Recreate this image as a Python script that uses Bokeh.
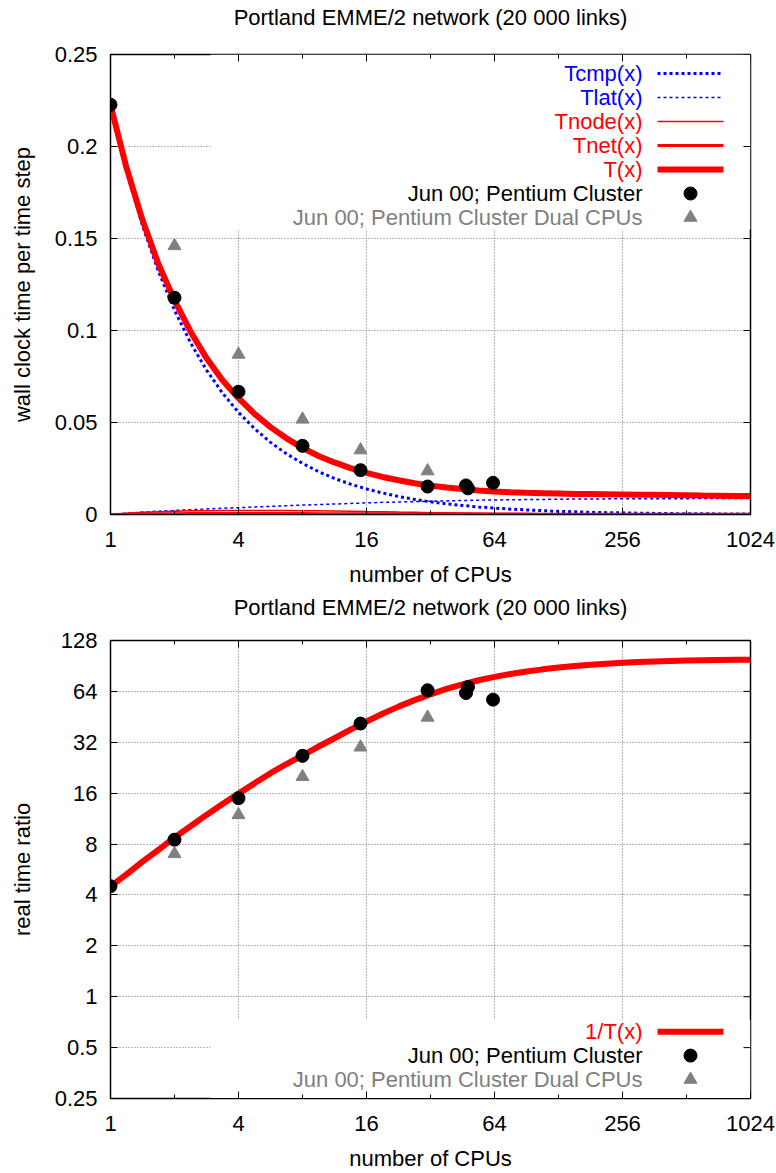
from bokeh.plotting import figure
from bokeh.layouts import column
from bokeh.models import FixedTicker, BoxAnnotation, Range1d, LinearAxis
from bokeh.embed import file_html
from bokeh.resources import INLINE
from bokeh.core.properties import value

# ---------------- texts ----------------
TITLE = "Portland EMME/2 network (20 000 links)"
X_LABEL = "number of CPUs"
Y1_LABEL = "wall clock time per time step"
Y2_LABEL = "real time ratio"

# ---------------- ticks ----------------
x_ticks = [1, 4, 16, 64, 256, 1024]
x_minor_ticks = [2, 8, 32, 128, 512]
x_tick_labels = ["1", "4", "16", "64", "256", "1024"]
y1_ticks = [0, 0.05, 0.1, 0.15, 0.2, 0.25]
y1_tick_labels = ["0", "0.05", "0.1", "0.15", "0.2", "0.25"]
y2_ticks = [0.25, 0.5, 1, 2, 4, 8, 16, 32, 64, 128]
y2_tick_labels = ["0.25", "0.5", "1", "2", "4", "8", "16", "32", "64", "128"]

# ---------------- model curves (read at quarter-octave steps) ----------------
x_curve = [1, 1.189, 1.414, 1.682, 2, 2.378, 2.828, 3.364, 4, 4.757, 5.657,
           6.727, 8, 9.514, 11.31, 13.45, 16, 19.03, 22.63, 26.91, 32, 38.05,
           45.25, 53.82, 64, 76.11, 90.51, 107.6, 128, 152.2, 181.0, 215.3,
           256, 304.4, 362.0, 430.5, 512, 608.9, 724.1, 861.1, 1024]
t_cmp = [0.2220, 0.1867, 0.1570, 0.1320, 0.1110, 0.0934, 0.0785, 0.0660, 0.0555,
         0.0467, 0.0392, 0.0330, 0.0278, 0.0233, 0.0196, 0.0165, 0.0139, 0.0117,
         0.0098, 0.0082, 0.0069, 0.0058, 0.0049, 0.0041, 0.0035, 0.0029, 0.0025,
         0.0021, 0.0017, 0.0015, 0.0012, 0.0010, 0.0009, 0.0007, 0.0006, 0.0005,
         0.0004, 0.0004, 0.0003, 0.0003, 0.0002]
t_lat = [0.0, 0.0007, 0.0013, 0.0018, 0.0022, 0.0026, 0.0030, 0.0034, 0.0037,
         0.0041, 0.0044, 0.0048, 0.0051, 0.0054, 0.0057, 0.0060, 0.0063, 0.0066,
         0.0068, 0.0070, 0.0072, 0.0074, 0.0076, 0.0078, 0.0079, 0.0080, 0.0081,
         0.0082, 0.0083, 0.0084, 0.0084, 0.0085, 0.0085, 0.0086, 0.0086, 0.0086,
         0.0086, 0.0087, 0.0087, 0.0087, 0.0087]
t_node = [0.0, 0.0007, 0.0012, 0.0015, 0.0018, 0.0020, 0.0021, 0.0022, 0.0022,
          0.0022, 0.0022, 0.0022, 0.0021, 0.0020, 0.0019, 0.0018, 0.0016, 0.0015,
          0.0013, 0.0012, 0.0010, 0.0009, 0.0008, 0.0007, 0.0006, 0.0005, 0.0004,
          0.0004, 0.0003, 0.0003, 0.0002, 0.0002, 0.0002, 0.0001, 0.0001, 0.0001,
          0.0001, 0.0001, 0.0001, 0.0001, 0.0001]
t_net = [0.0, 0.0002, 0.0003, 0.0004, 0.0004, 0.0005, 0.0005, 0.0005, 0.0005,
         0.0005, 0.0005, 0.0005, 0.0005, 0.0004, 0.0004, 0.0004, 0.0004, 0.0004,
         0.0004, 0.0004, 0.0003, 0.0003, 0.0003, 0.0003, 0.0003, 0.0003, 0.0003,
         0.0002, 0.0002, 0.0002, 0.0002, 0.0002, 0.0002, 0.0002, 0.0001, 0.0001,
         0.0001, 0.0001, 0.0001, 0.0001, 0.0001]
t_total = [0.2225, 0.1885, 0.1600, 0.1360, 0.1165, 0.0995, 0.0850, 0.0730, 0.0632,
           0.0547, 0.0475, 0.0414, 0.0362, 0.0318, 0.0283, 0.0252, 0.0226, 0.0204,
           0.0186, 0.0170, 0.0157, 0.0147, 0.0138, 0.0131, 0.0125, 0.0121, 0.0118,
           0.0116, 0.0114, 0.0112, 0.0111, 0.0110, 0.0109, 0.0108, 0.0107, 0.0106,
           0.0105, 0.0103, 0.0102, 0.0101, 0.0100]
ratio_curve = [4.5, 5.3, 6.3, 7.4, 8.75, 10.2, 11.9, 13.8, 15.9, 18.3, 21.0, 23.8,
               26.8, 30.2, 33.8, 38.0, 42.5, 47.2, 52.0, 56.8, 61.5, 66.2, 70.5,
               74.5, 78.0, 81.2, 84.0, 86.4, 88.5, 90.4, 92.0, 93.4, 94.6, 95.5,
               96.3, 96.9, 97.4, 97.8, 98.1, 98.4, 98.6]

# ---------------- measurements ----------------
cpus_single = [1, 2, 4, 8, 15, 31, 47, 48, 63]
time_single = [0.2227, 0.1178, 0.0667, 0.0373, 0.0241, 0.0152, 0.0158, 0.0142, 0.0172]
ratio_single = [4.51, 8.49, 14.95, 26.6, 41.3, 65.0, 62.6, 67.9, 57.2]
cpus_dual = [2, 4, 8, 15, 31]
time_dual = [0.146, 0.0870, 0.0517, 0.0350, 0.0236]
ratio_dual = [7.0, 11.9, 20.0, 29.9, 44.9]

# ---------------- styling / layout ----------------
FONT = "Liberation Sans"
FS = "22px"
BLUE = "#0000ff"
RED = "#ff0000"
GRAY = "#808080"
W = 776
FRAME_L, FRAME_R = 110, 750
OCT_PX = 64.0           # pixels per factor of 2 on the x axis
TICK_MAJ, TICK_MIN = 7, 4


def px_to_x(px):
    return 2 ** ((px - FRAME_L) / OCT_PX)


def style(p, y_ticks, y_labels, y_label, title_standoff):
    p.outline_line_color = "black"
    p.outline_line_width = 1.5
    p.background_fill_color = "white"
    p.border_fill_color = "white"
    xt = FixedTicker(ticks=x_ticks, minor_ticks=x_minor_ticks)
    yt = FixedTicker(ticks=y_ticks, minor_ticks=[])
    ax = p.below[0]
    ax.ticker = xt
    ax.major_label_overrides = dict(zip(x_ticks, x_tick_labels))
    ax.axis_label = X_LABEL
    ax.axis_label_standoff = 12
    ax.major_label_standoff = 17
    ay = p.left[0]
    ay.ticker = yt
    ay.major_label_overrides = dict(zip(y_ticks, y_labels))
    ay.axis_label = y_label
    ay.major_label_standoff = 13
    ay.axis_label_standoff = 17
    # title drawn as the label of an empty axis above the frame
    at = LinearAxis(ticker=FixedTicker(ticks=[]), axis_label=TITLE,
                    axis_label_standoff=title_standoff, major_label_standoff=0,
                    major_tick_in=0, major_tick_out=0, minor_tick_in=0, minor_tick_out=0,
                    axis_line_color=None)
    p.add_layout(at, "above")
    for a in (ax, ay, at):
        a.major_label_text_font = FONT
        a.major_label_text_font_size = FS
        a.major_label_text_color = "black"
        a.axis_label_text_font = FONT
        a.axis_label_text_font_size = FS
        a.axis_label_text_font_style = "normal"
        a.axis_label_text_color = "black"
    for a in (ax, ay):
        a.major_tick_in = TICK_MAJ
        a.major_tick_out = 0
        a.minor_tick_in = TICK_MIN
        a.minor_tick_out = 0
        a.major_tick_line_color = "black"
        a.minor_tick_line_color = "black"
        a.axis_line_color = "black"
    for g in (p.xgrid, p.ygrid):
        g.grid_line_color = "#707070"
        g.grid_line_dash = "1 2"
        g.grid_line_width = 1


# ======================= top panel =======================
H1 = 591
TOP1, BOT1 = 54, 514
p1 = figure(width=W, height=H1, x_axis_type="log", x_range=Range1d(1, 1024),
            y_range=Range1d(0, 0.25), output_backend="svg", toolbar_location=None,
            title_location=None,
            min_border_left=FRAME_L, min_border_right=W - FRAME_R,
            min_border_top=TOP1, min_border_bottom=H1 - BOT1)
style(p1, y1_ticks, y1_tick_labels, Y1_LABEL, 25)


def py_to_y1(py):
    return (BOT1 - py) / (BOT1 - TOP1) * 0.25


# key box hides the grid
p1.add_layout(BoxAnnotation(left=px_to_x(210), bottom=py_to_y1(229), fill_color="white",
                            fill_alpha=1.0, line_alpha=0, level="underlay"))

# mirrored ticks (top and right borders)
p1.segment(x0=x_ticks, y0=[0.25] * 6, x1=x_ticks, y1=[py_to_y1(TOP1 + TICK_MAJ)] * 6,
           line_color="black", line_width=1)
p1.segment(x0=x_minor_ticks, y0=[0.25] * 5, x1=x_minor_ticks,
           y1=[py_to_y1(TOP1 + TICK_MIN)] * 5, line_color="black", line_width=1)
p1.segment(x0=[1024] * 6, y0=y1_ticks, x1=[px_to_x(FRAME_R - TICK_MAJ)] * 6, y1=y1_ticks,
           line_color="black", line_width=1)

p1.line(x_curve, t_cmp, line_color=BLUE, line_width=3, line_dash="3 3")
p1.line(x_curve, t_lat, line_color=BLUE, line_width=1.5, line_dash="3 3")
p1.line(x_curve, t_node, line_color=RED, line_width=1.5)
p1.line(x_curve, t_net, line_color=RED, line_width=3)
p1.line(x_curve, t_total, line_color=RED, line_width=6)
p1.scatter(cpus_single, time_single, marker="circle", size=13, color="black")
p1.scatter(cpus_dual, time_dual, marker="triangle", size=13, color=GRAY)

# manual gnuplot-style key
key1_labels = ["Tcmp(x)", "Tlat(x)", "Tnode(x)", "Tnet(x)", "T(x)",
               "Jun 00; Pentium Cluster", "Jun 00; Pentium Cluster Dual CPUs"]
key1_colors = [BLUE, BLUE, RED, RED, RED, "black", GRAY]
key1_rows = [73, 97, 121, 145, 169, 193, 217]
TXT_R, S0, S1, SM = 642, 657, 723, 690
ky = [py_to_y1(r) for r in key1_rows]
p1.text(x=[px_to_x(TXT_R)] * len(ky), y=ky, text=key1_labels, text_color=key1_colors,
        text_align="right", text_baseline="middle", text_font=value(FONT), text_font_size=FS)
line_styles = [(BLUE, 3, "3 3"), (BLUE, 1.5, "3 3"), (RED, 1.5, "solid"),
               (RED, 3, "solid"), (RED, 6, "solid")]
for (c, w, d), yy in zip(line_styles, ky[:5]):
    p1.line([px_to_x(S0), px_to_x(S1)], [yy, yy], line_color=c, line_width=w, line_dash=d)
p1.scatter([px_to_x(SM)], [ky[5]], marker="circle", size=13, color="black")
p1.scatter([px_to_x(SM)], [ky[6]], marker="triangle", size=13, color=GRAY)

# ======================= bottom panel =======================
H2 = 1173 - H1
TOP2, BOT2 = 640 - H1, 1099 - H1
p2 = figure(width=W, height=H2, x_axis_type="log", y_axis_type="log",
            x_range=Range1d(1, 1024), y_range=Range1d(0.25, 128),
            output_backend="svg", toolbar_location=None, title_location=None,
            min_border_left=FRAME_L, min_border_right=W - FRAME_R,
            min_border_top=TOP2, min_border_bottom=H2 - BOT2)
style(p2, y2_ticks, y2_tick_labels, Y2_LABEL, 21)


def py_to_y2(py):
    return 2 ** (7 - (py - TOP2) / ((BOT2 - TOP2) / 9.0))


p2.add_layout(BoxAnnotation(left=px_to_x(210), top=py_to_y2(1020 - H1), fill_color="white",
                            fill_alpha=1.0, line_alpha=0, level="underlay"))

p2.segment(x0=x_ticks, y0=[128] * 6, x1=x_ticks, y1=[py_to_y2(TOP2 + TICK_MAJ)] * 6,
           line_color="black", line_width=1)
p2.segment(x0=x_minor_ticks, y0=[128] * 5, x1=x_minor_ticks,
           y1=[py_to_y2(TOP2 + TICK_MIN)] * 5, line_color="black", line_width=1)
p2.segment(x0=[1024] * 10, y0=y2_ticks, x1=[px_to_x(FRAME_R - TICK_MAJ)] * 10, y1=y2_ticks,
           line_color="black", line_width=1)

p2.line(x_curve, ratio_curve, line_color=RED, line_width=6)
p2.scatter(cpus_single, ratio_single, marker="circle", size=13, color="black")
p2.scatter(cpus_dual, ratio_dual, marker="triangle", size=13, color=GRAY)

key2_labels = ["1/T(x)", "Jun 00; Pentium Cluster", "Jun 00; Pentium Cluster Dual CPUs"]
key2_colors = [RED, "black", GRAY]
key2_rows = [1032 - H1, 1056 - H1, 1080 - H1]
ky2 = [py_to_y2(r) for r in key2_rows]
p2.text(x=[px_to_x(TXT_R)] * 3, y=ky2, text=key2_labels, text_color=key2_colors,
        text_align="right", text_baseline="middle", text_font=value(FONT), text_font_size=FS)
p2.line([px_to_x(S0), px_to_x(S1)], [ky2[0], ky2[0]], line_color=RED, line_width=6)
p2.scatter([px_to_x(SM)], [ky2[1]], marker="circle", size=13, color="black")
p2.scatter([px_to_x(SM)], [ky2[2]], marker="triangle", size=13, color=GRAY)

layout = column(p1, p2, spacing=0)
open("out.html", "w").write(file_html(layout, INLINE))
